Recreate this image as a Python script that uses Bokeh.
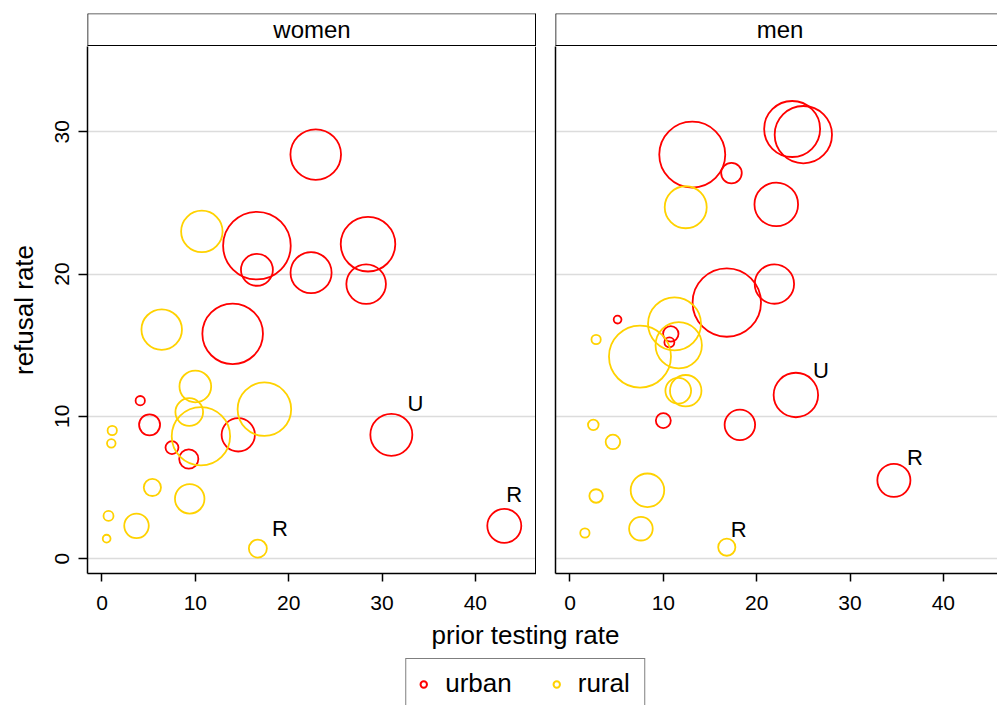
import numpy as np
from bokeh.plotting import figure
from bokeh.models import (ColumnDataSource, Range1d, FixedTicker, Span, Label,
                          Legend, LegendItem)
from bokeh.layouts import column, row
from bokeh.embed import file_html
from bokeh.resources import INLINE
from bokeh.core.properties import value

# ---------------- data ----------------
panel_titles = ["women", "men"]
x_ticks = [0, 10, 20, 30, 40]
y_ticks = [0, 10, 20, 30]
x_title = "prior testing rate"
y_title = "refusal rate"
area_names = ["urban", "rural"]

# women: prior testing rate, refusal rate, bubble weight, area, point label
women_x = [22.9, 10.7, 16.6, 16.6, 22.4, 28.5, 28.3, 6.4, 14.0, 10.0, 4.1, 9.35, 17.4, 5.1,
           10.6, 14.6, 1.1, 1.0, 7.5, 9.3, 31.0, 5.4, 9.4, 0.7, 3.7, 0.5, 16.7, 43.1]
women_y = [28.4, 23.0, 22.0, 20.3, 20.1, 22.1, 19.3, 16.1, 15.8, 12.1, 11.1, 10.3, 10.5, 9.4,
           8.6, 8.7, 9.0, 8.1, 7.8, 7.0, 8.7, 5.0, 4.2, 3.0, 2.3, 1.4, 0.7, 2.3]
women_n = [173, 118, 303, 72, 116, 200, 108, 113, 245, 71, 8, 55, 193, 33,
           228, 78, 8, 7, 14, 28, 121, 23, 62, 9, 44, 6, 25, 81]
women_area = ["urban", "rural", "urban", "urban", "urban", "urban", "urban", "rural", "urban",
              "rural", "urban", "rural", "rural", "urban", "rural", "urban", "rural", "rural",
              "urban", "urban", "urban", "rural", "rural", "rural", "rural", "rural", "rural",
              "urban"]
women_lab = [""] * 20 + ["U"] + [""] * 5 + ["R", "R"]

men_x = [13.1, 17.3, 23.8, 25.0, 12.4, 22.1, 21.9, 16.8, 5.1, 11.2, 10.8, 10.65, 11.65, 2.8,
         7.5, 11.6, 12.4, 24.2, 10.0, 18.2, 2.5, 4.6, 34.7, 8.3, 2.8, 7.6, 1.6, 16.8]
men_y = [28.4, 27.1, 30.2, 29.8, 24.7, 24.9, 19.3, 18.0, 16.8, 16.5, 15.8, 15.2, 15.0, 15.4,
         14.2, 11.8, 11.8, 11.5, 9.7, 9.4, 9.4, 8.2, 5.5, 4.8, 4.4, 2.1, 1.8, 0.8]
men_n = [289, 32, 210, 220, 121, 130, 107, 310, 6, 189, 19, 9, 146, 8,
         256, 48, 70, 135, 18, 66, 10, 17, 77, 79, 15, 41, 8, 23]
men_area = ["urban", "urban", "urban", "urban", "rural", "urban", "urban", "urban", "urban",
            "rural", "urban", "urban", "rural", "rural", "rural", "rural", "rural", "urban",
            "urban", "urban", "rural", "rural", "urban", "rural", "rural", "rural", "rural",
            "rural"]
men_lab = [""] * 17 + ["U"] + [""] * 4 + ["R"] + [""] * 4 + ["R"]

# ---------------- styling / layout ----------------
FONT = "Liberation Sans"
COLORS = {"urban": "#FF0000", "rural": "#FFD200"}
XMIN, XMAX = -1.55, 46.55
YMIN, YMAX = -1.05, 36.0
FRAME_W, FRAME_W_RIGHT, FRAME_H = 449, 442, 527
LEFT_BORDER, GAP = 87, 19
BOTTOM_BORDER = 48
TOP_BORDER = 13
STRIP_H = 33
PAGE_W, PAGE_H = 997, 705
PX_X = (XMAX - XMIN) / FRAME_W      # data units per pixel (x)
EDGE_LW = 1.5
# pixel offsets of the point labels (dx, dy) by panel and point index
LABEL_OFFSETS = {
    "women": {20: (24, -31), 26: (22, -20), 27: (10, -31)},
    "men": {17: (25, -24), 22: (21, -23), 27: (12, -18)},
}


def bubble_size(n):
    return 4.0 * np.sqrt(n) - 2.0


sources = {}


def make_main(name, xs, ys, ns, areas, labs, first):
    fw = FRAME_W if first else FRAME_W_RIGHT
    xr = Range1d(XMIN, XMIN + PX_X * fw)
    p = figure(frame_width=fw, frame_height=FRAME_H, x_range=xr, y_range=Range1d(YMIN, YMAX),
               min_border_left=LEFT_BORDER if first else GAP, min_border_right=0,
               min_border_top=0, min_border_bottom=BOTTOM_BORDER, toolbar_location=None,
               output_backend="svg", title=None)
    p.background_fill_color = "white"
    p.border_fill_color = "white"
    p.outline_line_color = None

    # axes
    p.xaxis.ticker = FixedTicker(ticks=x_ticks)
    p.xaxis.major_tick_out = 8
    p.xaxis.major_tick_in = 0
    p.xaxis.minor_tick_line_color = None
    p.xaxis.major_label_standoff = 14
    p.xaxis.major_label_text_font = FONT
    p.xaxis.major_label_text_font_size = "21px"
    p.xaxis.major_label_text_color = "black"
    p.xaxis.axis_line_width = EDGE_LW
    p.xaxis.axis_line_color = "black"
    p.xaxis.major_tick_line_width = 1.5
    p.xaxis.major_tick_line_color = "black"

    p.yaxis.minor_tick_line_color = None
    p.yaxis.axis_line_width = EDGE_LW
    p.yaxis.axis_line_color = "black"
    if first:
        p.yaxis.ticker = FixedTicker(ticks=y_ticks)
        p.yaxis.major_tick_out = 9
        p.yaxis.major_tick_in = 0
        p.yaxis.major_label_orientation = "vertical"
        p.yaxis.major_label_standoff = 9
        p.yaxis.major_label_text_font = FONT
        p.yaxis.major_label_text_font_size = "21px"
        p.yaxis.major_label_text_color = "black"
        p.yaxis.major_tick_line_width = 1.5
        p.yaxis.major_tick_line_color = "black"
        p.yaxis.axis_label = y_title
        p.yaxis.axis_label_text_font = FONT
        p.yaxis.axis_label_text_font_size = "26px"
        p.yaxis.axis_label_text_font_style = "normal"
        p.yaxis.axis_label_text_color = "black"
        p.yaxis.axis_label_standoff = 14
        # right border of the panel, kept inside the canvas
        p.add_layout(Span(location=xr.end - PX_X * EDGE_LW / 2, dimension="height",
                          line_color="black", line_width=EDGE_LW))
    else:
        p.yaxis.ticker = FixedTicker(ticks=[])
        p.yaxis.major_tick_out = 0
        p.yaxis.major_tick_in = 0

    p.xgrid.visible = False
    p.ygrid.ticker = FixedTicker(ticks=y_ticks)
    p.ygrid.grid_line_color = "#DCDCDC"
    p.ygrid.grid_line_width = 1.5

    for area in area_names:
        idx = [i for i, a in enumerate(areas) if a == area]
        src = ColumnDataSource(dict(
            x=[xs[i] for i in idx], y=[ys[i] for i in idx],
            size=[bubble_size(ns[i]) for i in idx]))
        sources[(name, area)] = src
        p.scatter("x", "y", size="size", source=src, marker="circle",
                  fill_color=None, line_color=COLORS[area], line_width=1.8)

    offs = LABEL_OFFSETS[name]
    li = [i for i, t in enumerate(labs) if t]
    lsrc = ColumnDataSource(dict(
        x=[xs[i] for i in li], y=[ys[i] for i in li], text=[labs[i] for i in li],
        dx=[offs[i][0] for i in li], dy=[offs[i][1] for i in li]))
    p.text("x", "y", text="text", x_offset="dx", y_offset="dy", source=lsrc,
           text_align="center", text_baseline="middle", text_font=value(FONT),
           text_font_size="22px", text_color="black")
    return p


def make_strip(name, x_range, first):
    fw = FRAME_W if first else FRAME_W_RIGHT
    s = figure(frame_width=fw, frame_height=STRIP_H, x_range=x_range, y_range=Range1d(0, 1),
               min_border_left=LEFT_BORDER if first else GAP, min_border_right=0,
               min_border_top=TOP_BORDER, min_border_bottom=0, toolbar_location=None,
               x_axis_location=None, y_axis_location=None, output_backend="svg", title=None)
    for g in s.grid:
        g.visible = False
    s.background_fill_color = "white"
    s.border_fill_color = "white"
    s.outline_line_color = None
    s.add_layout(Span(location=1, dimension="width", line_color="#333333", line_width=EDGE_LW))
    s.add_layout(Span(location=(EDGE_LW / 2) / STRIP_H, dimension="width",
                      line_color="black", line_width=EDGE_LW))
    s.add_layout(Span(location=XMIN, dimension="height", line_color="black",
                      line_width=EDGE_LW))
    if first:
        s.add_layout(Span(location=x_range.end - PX_X * EDGE_LW / 2, dimension="height",
                          line_color="black", line_width=EDGE_LW))
    s.add_layout(Label(x=(XMIN + XMAX) / 2, y=0.53, text=name, text_align="center",
                       text_baseline="middle", text_font=FONT, text_font_size="24px",
                       text_color="black"))
    return s


pW = make_main("women", women_x, women_y, women_n, women_area, women_lab, True)
pM = make_main("men", men_x, men_y, men_n, men_area, men_lab, False)
sW = make_strip(panel_titles[0], pW.x_range, True)
sM = make_strip(panel_titles[1], pM.x_range, False)

# bottom: x title and legend
top_of_bottom = TOP_BORDER + STRIP_H + FRAME_H + BOTTOM_BORDER
HB = PAGE_H - top_of_bottom
pB = figure(width=PAGE_W, height=HB, x_range=Range1d(0, 1), y_range=Range1d(0, HB),
            min_border_left=53, min_border_right=0, min_border_top=0, min_border_bottom=0,
            toolbar_location=None, x_axis_location=None, y_axis_location=None,
            output_backend="svg", title=None)
for g in pB.grid:
    g.visible = False
pB.outline_line_color = None
pB.background_fill_color = "white"
pB.border_fill_color = "white"
pB.add_layout(Label(x=0.5, y=HB - 13.3, text=x_title, text_align="center",
                    text_baseline="middle", text_font=FONT, text_font_size="26px",
                    text_color="black"))
items = []
for area in area_names:
    r = pB.scatter("x", "y", source=sources[("women", area)], marker="circle",
                   fill_color=None, line_color=COLORS[area], line_width=2)
    r.visible = False
    items.append(LegendItem(label=area, renderers=[r]))
legend = Legend(items=items, location="top_center", orientation="horizontal",
                margin=658 - top_of_bottom,
                padding=9, spacing=36, glyph_width=16, glyph_height=16, label_standoff=14,
                label_width=57,
                label_text_font=FONT, label_text_font_size="26px", label_text_color="black",
                border_line_color="black", border_line_width=1.5,
                background_fill_color="white", background_fill_alpha=1.0,
                inactive_fill_alpha=0.0)
pB.add_layout(legend)

layout = column(row(sW, sM), row(pW, pM), pB)

open("out.html", "w").write(file_html(layout, INLINE))
